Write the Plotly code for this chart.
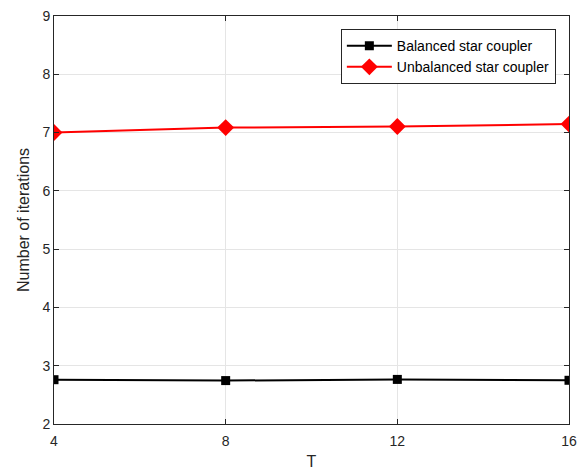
import plotly.graph_objects as go

T = [4, 8, 12, 16]
balanced = [2.76, 2.745, 2.765, 2.75]
unbalanced = [7.0, 7.085, 7.105, 7.145]

FONT = "Liberation Sans, Arial, sans-serif"
INK = "#262626"

fig = go.Figure()
fig.add_trace(go.Scatter(
    x=T, y=balanced, mode="lines+markers", name="Balanced star coupler",
    line=dict(color="black", width=2),
    marker=dict(symbol="square", size=9, color="black"),
))
fig.add_trace(go.Scatter(
    x=T, y=unbalanced, mode="lines+markers", name="Unbalanced star coupler",
    line=dict(color="#ff0000", width=2),
    marker=dict(symbol="diamond", size=13, color="#ff0000"),
))

axis_common = dict(
    showline=True, linecolor=INK, linewidth=1, mirror="ticks",
    ticks="inside", ticklen=5, tickcolor=INK,
    showgrid=True, gridcolor="#e5e5e5", gridwidth=1,
    zeroline=False, automargin=False,
    tickfont=dict(family=FONT, size=14, color=INK),
)

fig.update_xaxes(
    range=[4, 16], tickvals=[4, 8, 12, 16],
    ticklabelstandoff=4,
    title=dict(text="T", font=dict(family=FONT, size=16, color=INK), standoff=8),
    **axis_common,
)
fig.update_yaxes(
    range=[2, 9], tickvals=list(range(2, 10)),
    title=dict(text="Number of iterations", font=dict(family=FONT, size=16, color=INK), standoff=8),
    **axis_common,
)

fig.update_layout(
    width=586, height=471,
    margin=dict(l=54, r=17, t=16, b=47),
    paper_bgcolor="white", plot_bgcolor="white",
    legend=dict(
        x=0.557, y=0.968, xanchor="left", yanchor="top",
        bgcolor="white", bordercolor=INK, borderwidth=1,
        font=dict(family=FONT, size=14, color="black"),
        tracegroupgap=0, itemwidth=45,
    ),
)

fig.write_html("out.html")
